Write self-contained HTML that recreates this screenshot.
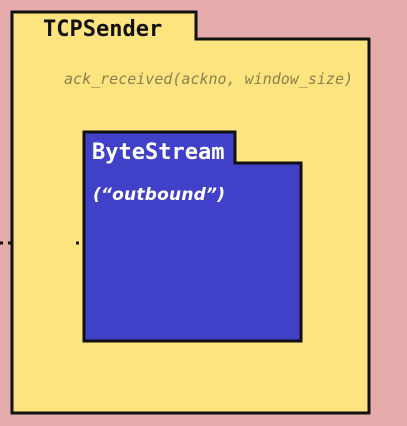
<!DOCTYPE html>
<html><head><style>
body{margin:0;width:407px;height:426px;background:#e6abab;overflow:hidden;position:relative;font-family:"DejaVu Sans Mono","Liberation Mono",monospace}
.a{position:absolute;box-sizing:border-box}
</style></head><body>
<svg class="a" style="left:0;top:0" width="407" height="426">
<path d="M12 12 H196 V39 H369 V413 H12 Z" fill="#fee47e" stroke="#111" stroke-width="3"/>
<path d="M84 132 H235 V163 H301 V341 H84 Z" fill="#4040c8" stroke="#111" stroke-width="3"/>
<line x1="0" y1="243" x2="12" y2="243" stroke="#111" stroke-width="3" stroke-dasharray="3 5"/>
<line x1="76" y1="243" x2="84" y2="243" stroke="#111" stroke-width="3" stroke-dasharray="3 5"/>
<text x="43" y="36" font-family="DejaVu Sans Mono" font-weight="bold" font-size="22" fill="#111">TCPSender</text>
<text x="64" y="84" font-family="DejaVu Sans Mono" font-style="italic" font-size="15" fill="#8a8050" textLength="289">ack_received(ackno, window_size)</text>
<text x="92" y="159" font-family="DejaVu Sans Mono" font-weight="bold" font-size="22" fill="#fff">ByteStream</text>
<text x="93" y="200" font-family="DejaVu Sans" font-weight="bold" font-style="italic" font-size="17" fill="#fff" textLength="132">(“outbound”)</text>
</svg>
</body></html>
